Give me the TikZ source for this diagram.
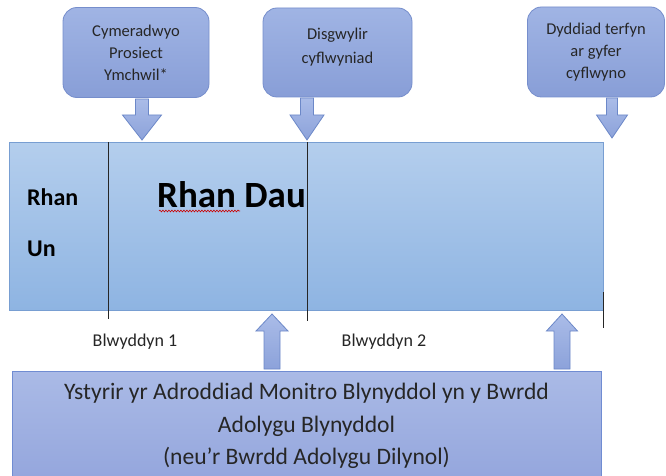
\documentclass[tikz,border=0pt]{standalone}
\usepackage{fontspec}
\setmainfont{Carlito}
\usetikzlibrary{decorations.pathmorphing}
\definecolor{tbtop}{RGB}{160,180,228}
\definecolor{tbbot}{RGB}{136,158,215}
\definecolor{tbline}{RGB}{118,142,204}
\definecolor{mrtop}{RGB}{180,206,237}
\definecolor{mrbot}{RGB}{142,180,226}
\definecolor{mrline}{RGB}{120,158,210}
\definecolor{bbtop}{RGB}{170,186,230}
\definecolor{bbbot}{RGB}{146,164,220}
\definecolor{bbline}{RGB}{112,140,210}
\definecolor{artop}{RGB}{170,188,232}
\definecolor{arbot}{RGB}{140,162,218}
\definecolor{arline}{RGB}{108,136,200}
\newcommand{\blockarrow}[6]{%
  \draw[arrowshape] ({#1-#5},#2) -- ({#1+#5},#2) -- ({#1+#5},#3) -- ({#1+#6},#3)
    -- (#1,#4) -- ({#1-#6},#3) -- ({#1-#5},#3) -- cycle;}
\begin{document}
\begin{tikzpicture}[x=1pt,y=-1pt,
  topbox/.style={draw=tbline, line width=0.8pt, rounded corners=14pt,
    top color=tbtop, bottom color=tbbot, align=center, inner sep=0pt,
    font=\fontsize{16.5}{22}\selectfont, text=black!85},
  arrowshape/.style={draw=arline, line width=0.8pt, top color=artop, bottom color=arbot},
  tick/.style={draw=black!85, line width=0.9pt},
  yearlbl/.style={font=\fontsize{18}{22}\selectfont, text=black!85, inner sep=0pt},
  bigbold/.style={font=\bfseries\fontsize{24}{28}\selectfont, inner sep=0pt, anchor=west}]
\useasboundingbox (0,0) rectangle (666,476);
\clip (0,0) rectangle (666,476);
\fill[white] (0,0) rectangle (666,476);

% top boxes
\node[topbox, minimum width=146pt, minimum height=90pt] (b1) at (136,52.5)
  {Cymeradwyo\\Prosiect\\Ymchwil*};
\node[topbox, minimum width=149pt, minimum height=89pt] (b2) at (337.5,52.5) {};
\node[align=center, inner sep=0pt, font=\fontsize{16.5}{24}\selectfont, text=black!85]
  (b2t) at (337.5,47) {Disgwylir\\cyflwyniad};
\node[topbox, minimum width=137pt, minimum height=90pt] (b3) at (596,52)
  {Dyddiad terfyn\\ar gyfer\\cyflwyno};

% main rectangle
\node[draw=mrline, line width=0.8pt, top color=mrtop, bottom color=mrbot,
  minimum width=594pt, minimum height=168pt, inner sep=0pt] (main) at (306,226) {};

% down arrows
\blockarrow{142}{99}{115}{140}{6.5}{19.5}
\blockarrow{307}{98}{115}{140}{6.5}{17}
\blockarrow{612}{98}{115}{138}{5.5}{15.5}

% dividers
\coordinate (d1t) at (108,142); \coordinate (d1b) at (108,319);
\coordinate (d2t) at (307,142); \coordinate (d2b) at (307,321);
\coordinate (d3t) at (603,292); \coordinate (d3b) at (603,328);
\draw[tick] (d1t) -- (d1b);
\draw[tick] (d2t) -- (d2b);
\draw[tick] (d3t) -- (d3b);

% texts in main
\node[bigbold] (r1) at (27,197) {Rhan};
\node[bigbold] (r2) at (27,249) {Un};
\node[bigbold, font=\bfseries\fontsize{37}{40}\selectfont] (rd) at (157,195) {Rhan Dau};
\draw[red!80!black, line width=0.6pt, decorate,
  decoration={snake, segment length=3pt, amplitude=0.9pt}] (159,211) -- (240,211);

% year labels
\node[yearlbl] (y1) at (135,342) {Blwyddyn 1};
\node[yearlbl] (y2) at (384,342) {Blwyddyn 2};

% bottom box
\node[draw=bbline, line width=0.8pt, top color=bbtop, bottom color=bbbot,
  minimum width=589pt, minimum height=120pt, inner sep=0pt] (bot) at (306.5,431) {};
\node[align=center, font=\fontsize{23.6}{32.5}\selectfont, text=black!85, inner sep=0pt]
  (bt) at (306.5,426) {Ystyrir yr Adroddiad Monitro Blynyddol yn y Bwrdd\\Adolygu Blynyddol\\(neu’r Bwrdd Adolygu Dilynol)};

% up arrows
\blockarrow{272}{369}{331}{314}{8}{16}
\blockarrow{562}{369}{331}{314}{8}{15.5}
\end{tikzpicture}
\end{document}
